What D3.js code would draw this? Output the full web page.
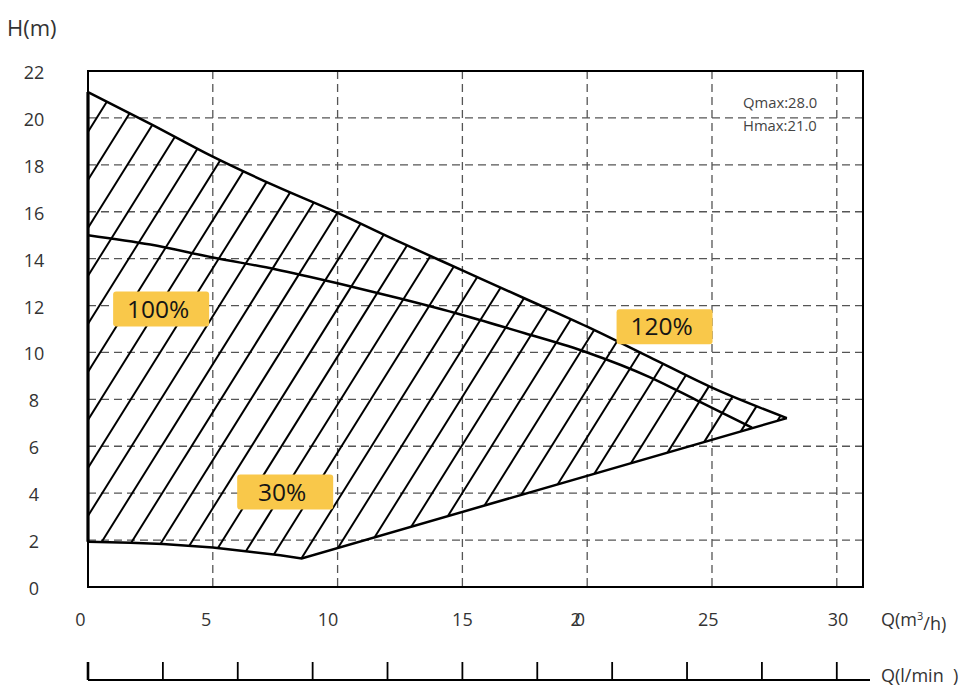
<!DOCTYPE html>
<html>
<head>
<meta charset="utf-8">
<script src="https://cdn.jsdelivr.net/npm/d3@7"></script>
<style>
  html, body { margin: 0; padding: 0; background: #fff; }
  svg { display: block; }
  text { font-family: "Open Sans", "Noto Sans", sans-serif; }
</style>
</head>
<body>
<svg id="chart" width="974" height="700"></svg>
<script>
// ---- data ----
const qTicks = [5, 10, 15, 20, 25, 30];
const qLabels = ["0", "5", "10", "15", "20", "25", "30"];
const qLabelPos = [-0.3, 4.73, 9.62, 15.0, 19.5, 24.85, 30.05];
const hTicks = [0, 2, 4, 6, 8, 10, 12, 14, 16, 18, 20, 22];
const hGrid = [2, 4, 6, 8, 10, 12, 14, 16, 18, 20];
const lminTicks = [0, 50, 100, 150, 200, 250, 300, 350, 400, 450, 500];

// max speed curve (upper boundary)
const topQ = [0, 2.5, 5, 7.5, 10, 12.5, 15, 17.5, 20, 22.5, 25, 28];
const topH = [21.1, 19.75, 18.35, 17.1, 15.95, 14.7, 13.5, 12.3, 11.1, 9.8, 8.5, 7.2];
// 100% curve
const midQ = [0, 2.5, 5, 7.5, 10, 12.5, 15, 17.5, 20, 22.5, 24.5, 26.6];
const midH = [15.0, 14.6, 14.05, 13.55, 12.95, 12.3, 11.6, 10.82, 10.0, 8.95, 7.9, 6.8];
// 30% curve (lower boundary)
const lowQ = [0, 1.7, 3, 5, 6.4, 7.7, 8.56, 28];
const lowH = [1.93, 1.89, 1.83, 1.68, 1.51, 1.35, 1.22, 7.2];

const tagText = ["100%", "120%", "30%"];
const tagQ = [2.93, 23.1, 7.9];
const tagH = [11.85, 11.1, 4.05];

const infoLines = ["Qmax:28.0", "Hmax:21.0"];

// ---- layout ----
const L = 88, T = 71, R = 863, B = 587;
const svg = d3.select("#chart");
const x = d3.scaleLinear().domain([0, 31.05]).range([L, R]);
const y = d3.scaleLinear().domain([0, 22]).range([B, T]);
const xl = d3.scaleLinear().domain([0, 31.05 * 1000 / 60]).range([L, R]);

const gridColor = "#555";
// grid
svg.append("g").selectAll("line").data(qTicks).join("line")
  .attr("x1", d => x(d)).attr("x2", d => x(d))
  .attr("y1", T).attr("y2", B)
  .attr("stroke", gridColor).attr("stroke-width", 1.3).attr("stroke-dasharray", "8,5");
svg.append("g").selectAll("line").data(hGrid).join("line")
  .attr("x1", L).attr("x2", R)
  .attr("y1", d => y(d)).attr("y2", d => y(d))
  .attr("stroke", gridColor).attr("stroke-width", 1.3).attr("stroke-dasharray", "8,5");

// curves
const pts = (qs, hs) => qs.map((q, i) => [q, hs[i]]);
const topPts = pts(topQ, topH), midPts = pts(midQ, midH), lowPts = pts(lowQ, lowH);
const smooth = d3.line().x(d => x(d[0])).y(d => y(d[1])).curve(d3.curveMonotoneX);
const straight = d3.line().x(d => x(d[0])).y(d => y(d[1]));

const regionPath = smooth(topPts) + straight(lowPts.slice().reverse()).replace(/^M/, "L") + "Z";

svg.append("clipPath").attr("id", "region").append("path").attr("d", regionPath);

// hatching: lines x + y/s = c
const s = 1.6, dStep = 30, c0 = 20.4;
const hatch = [];
for (let c = c0; c < R + B / s + dStep; c += dStep) hatch.push(c);
svg.append("g").attr("clip-path", "url(#region)")
  .selectAll("line").data(hatch).join("line")
  .attr("x1", c => c - T / s).attr("y1", T)
  .attr("x2", c => c - B / s).attr("y2", B)
  .attr("stroke", "#000").attr("stroke-width", 2);

svg.append("path").attr("d", smooth(topPts)).attr("fill", "none").attr("stroke", "#000").attr("stroke-width", 2.5);
svg.append("path").attr("d", smooth(midPts)).attr("fill", "none").attr("stroke", "#000").attr("stroke-width", 2.5);
svg.append("path").attr("d", straight(lowPts)).attr("fill", "none").attr("stroke", "#000").attr("stroke-width", 2.5);

// frame
svg.append("rect").attr("x", L).attr("y", T).attr("width", R - L).attr("height", B - T)
  .attr("fill", "none").attr("stroke", "#000").attr("stroke-width", 2);
svg.append("line").attr("x1", L).attr("x2", L).attr("y1", y(lowH[0])).attr("y2", y(topH[0]))
  .attr("stroke", "#000").attr("stroke-width", 3.2);

// tags
const tg = svg.append("g").selectAll("g").data(tagText).join("g")
  .attr("transform", (d, i) => `translate(${x(tagQ[i])},${y(tagH[i])})`);
tg.append("rect").attr("x", -48).attr("y", -17.5).attr("width", 96).attr("height", 35)
  .attr("rx", 3).attr("fill", "#F9C84A");
tg.append("text").text(d => d).attr("text-anchor", "middle").attr("dy", "0.36em")
  .attr("x", -3).attr("font-size", 24.5).attr("fill", "#151515");

// info
svg.append("g").selectAll("text").data(infoLines).join("text")
  .text(d => d).attr("x", 743).attr("y", (d, i) => 107.5 + i * 23)
  .attr("font-size", 14.8).attr("fill", "#444");

// y labels
svg.append("g").selectAll("text").data(hTicks).join("text")
  .text(d => d).attr("x", 34).attr("y", d => y(d) + 1.5)
  .attr("dy", "0.36em").attr("text-anchor", "middle")
  .attr("font-size", 18).attr("fill", "#333");
svg.append("text").text("H(m)").attr("x", 7).attr("y", 36)
  .attr("font-size", 22).attr("fill", "#333");

// x labels
svg.append("g").selectAll("text").data(qLabels).join("text")
  .text(d => d).attr("x", (d, i) => x(qLabelPos[i])).attr("y", 620)
  .attr("dy", "0.36em").attr("text-anchor", "middle")
  .attr("letter-spacing", d => d === "20" ? "-6px" : null)
  .attr("font-size", 18).attr("fill", "#333");
const qt = svg.append("text").attr("x", 881).attr("y", 620).attr("dy", "0.36em")
  .attr("font-size", 18).attr("fill", "#333");
qt.append("tspan").text("Q(m");
qt.append("tspan").text("3").attr("font-size", 11).attr("dy", "-0.55em");
qt.append("tspan").text("/h)").attr("dy", "0.55em");

// l/min axis
const ly = 680;
svg.append("line").attr("x1", L).attr("x2", 870).attr("y1", ly).attr("y2", ly)
  .attr("stroke", "#000").attr("stroke-width", 2);
svg.append("g").selectAll("line").data(lminTicks).join("line")
  .attr("x1", d => xl(d)).attr("x2", d => xl(d))
  .attr("y1", ly - 18).attr("y2", ly)
  .attr("stroke", "#000").attr("stroke-width", (d, i) => i === 0 ? 2.6 : 1.8);
svg.append("text").attr("x", 881).attr("y", 676).attr("dy", "0.36em")
  .attr("font-size", 18).attr("fill", "#333").attr("xml:space", "preserve")
  .style("white-space", "pre").text("Q(l/min  )");
</script>
</body>
</html>
